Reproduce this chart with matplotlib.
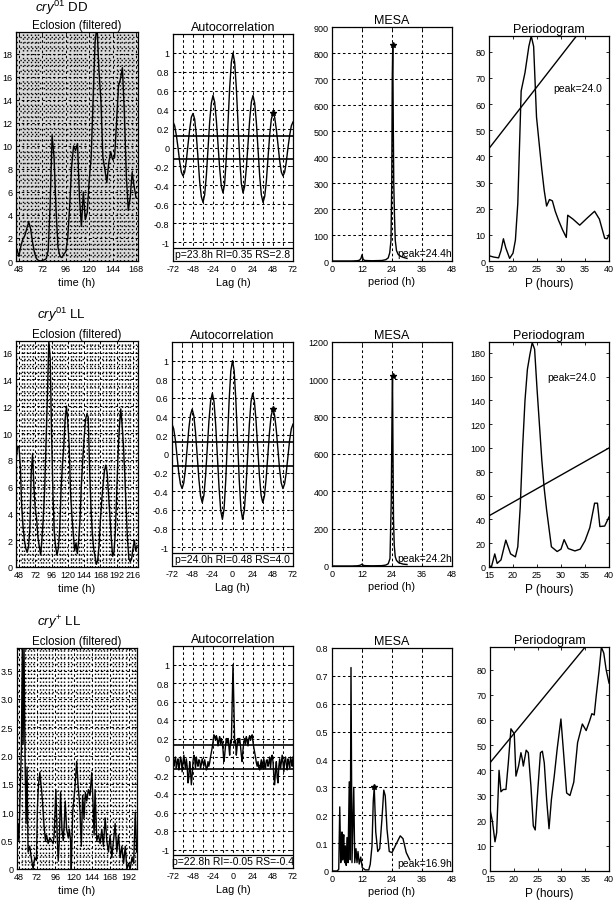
import numpy as np
import matplotlib
matplotlib.use("Agg")
import matplotlib.pyplot as plt
from matplotlib.patches import Rectangle
from matplotlib.ticker import MultipleLocator, FixedLocator, FuncFormatter

plt.rcParams['font.family'] = ['Liberation Sans', 'DejaVu Sans']
plt.rcParams['mathtext.fontset'] = 'custom'
plt.rcParams['mathtext.rm'] = 'Liberation Sans'
plt.rcParams['mathtext.it'] = 'Liberation Sans:italic'
plt.rcParams['axes.linewidth'] = 0.9

# ------------------------------------------------------------------ data
genotype_labels = [r'$\mathit{cry}^{\mathit{01}}$ DD',
                   r'$\mathit{cry}^{\mathit{01}}$ LL',
                   r'$\mathit{cry}^{+}$ LL']

# Eclosion (filtered) -- row 1: t = 46, 48, ... 168
ecl1_start, ecl1_step = 46, 2
ecl1_vals = [1.0, 0.4, 1.3, 1.9, 2.2, 2.8, 3.4, 2.8, 1.6, 0.7,
             0.2, 0.05, 0.0, 0.05, 0.1, 0.2, 0.9, 5.0, 10.9, 9.0,
             4.5, 1.2, 0.4, 0.3, 0.6, 0.8, 2.0, 4.8, 8.2, 10.0,
             9.6, 10.2, 5.6, 3.0, 6.0, 3.6, 4.2, 7.0, 9.0, 14.0,
             19.0, 20.5, 16.5, 14.0, 9.0, 8.0, 6.8, 8.5, 9.5, 8.8,
             9.0, 12.0, 15.2, 15.8, 16.8, 13.0, 7.5, 4.4, 5.5, 7.7,
             6.5, 5.5]
# row 2: t = 44, 46, ... 222
ecl2_start, ecl2_step = 44, 2
ecl2_vals = [8.1, 9.0, 9.0, 7.5, 4.5, 3.0, 2.0, 1.4, 1.1, 1.5,
             2.8, 7.0, 8.4, 6.0, 4.4, 3.6, 2.2, 1.5, 0.9, 2.2,
             3.8, 6.0, 9.5, 13.0, 16.9, 15.6, 10.0, 5.5, 2.6, 1.5,
             0.9, 1.4, 2.8, 5.8, 7.6, 9.0, 11.0, 12.0, 10.8, 9.0,
             5.5, 3.8, 2.5, 1.2, 1.8, 1.0, 2.0, 3.6, 6.2, 8.0,
             9.6, 11.0, 11.4, 11.2, 7.5, 4.5, 2.6, 1.4, 0.8, 0.2,
             0.5, 1.6, 3.5, 5.0, 6.2, 7.2, 7.6, 7.0, 5.4, 3.8,
             2.2, 0.8, 1.1, 2.6, 5.5, 8.5, 10.5, 11.8, 10.6, 9.0,
             6.8, 4.2, 2.0, 0.6, 0.4, 0.6, 1.4, 2.0, 1.2, 1.6]
# row 3: irregular sampling
ecl3_time = [45.8, 47.1, 48.4, 50.2, 51.5, 52.8, 53.8, 55.0, 56.3, 57.7,
             59.0, 60.3, 62.5, 64.5, 66.9, 69.0, 71.3, 72.6, 74.0, 75.7,
             77.9, 79.2, 81.0, 83.1, 84.5, 86.6, 88.8, 91.0, 93.2, 94.5,
             96.7, 98.4, 99.8, 101.2, 102.9, 104.7, 106.4, 107.7, 109.0, 110.8,
             113.0, 114.4, 116.0, 116.9, 118.7, 121.5, 124.0, 125.7, 127.5, 128.4,
             130.0, 131.8, 133.6, 135.4, 137.2, 139.3, 141.5, 143.7, 145.0, 146.8,
             148.1, 150.3, 152.5, 154.7, 156.9, 159.0, 161.3, 163.5, 165.6, 167.8,
             170.0, 172.2, 174.4, 176.6, 178.8, 181.0, 183.2, 185.4, 187.6, 189.8,
             192.0, 194.0, 196.4, 198.6, 200.8, 202.5]
ecl3_vals = [0.3, 0.8, 0.5, 1.5, 2.1, 3.95, 2.2, 3.95, 2.0, 0.8,
             1.8, 0.3, 0.4, 0.2, 0.0, 0.2, 0.15, 1.1, 1.5, 1.7,
             1.4, 1.2, 0.8, 0.5, 0.6, 0.45, 0.55, 0.5, 0.45, 0.6,
             1.4, 0.6, 0.15, 0.5, 1.35, 0.7, 0.5, 0.8, 1.2, 0.7,
             0.55, 0.7, 0.5, 0.0, 1.0, 1.4, 1.9, 1.5, 1.2, 1.0,
             0.4, 1.3, 0.9, 1.35, 1.2, 1.4, 1.3, 1.7, 1.3, 0.6,
             1.4, 0.5, 0.6, 0.45, 0.7, 0.4, 0.9, 0.5, 0.3, 0.6,
             0.2, 0.5, 0.8, 0.3, 0.6, 0.2, 0.4, 0.1, 0.4, 0.0,
             0.1, 0.0, 0.2, 0.1, 1.0, 0.3]

# Autocorrelation (symmetric; values for lag >= 0)
acf1_step = 2
acf1_half = [1.0, 0.90, 0.63, 0.26, -0.11, -0.38, -0.48,
             -0.41, -0.22, 0.035, 0.29, 0.48, 0.55,
             0.47, 0.27, -0.015, -0.30, -0.50, -0.58,
             -0.52, -0.36, -0.11, 0.13, 0.30, 0.36,
             0.32, 0.19, 0.03, -0.14, -0.26, -0.30,
             -0.26, -0.15, 0.0, 0.13, 0.23, 0.27]
acf2_step = 2
acf2_half = [1.0, 0.89, 0.575, 0.15, -0.275, -0.585, -0.70,
             -0.61, -0.36, -0.025, 0.31, 0.56, 0.65,
             0.57, 0.36, 0.065, -0.23, -0.44, -0.52,
             -0.45, -0.27, -0.02, 0.23, 0.41, 0.48,
             0.42, 0.27, 0.055, -0.16, -0.31, -0.37,
             -0.32, -0.20, -0.025, 0.15, 0.27, 0.32]
acf3_step = 1
acf3_half = [1.0, 0.58, 0.15, 0.18, 0.02, 0.12, 0.20, 0.15, 0.20, 0.12,
             0.02, -0.05, 0.08, 0.16, 0.20, 0.14, 0.22, 0.18, 0.12, 0.20,
             0.23, 0.18, 0.22, 0.24, 0.16, 0.10, 0.05, 0.00, -0.06, -0.10,
             -0.05, -0.12, -0.14, -0.08, -0.03, -0.10, -0.06, -0.02, -0.08, -0.12,
             -0.04, -0.03, -0.10, -0.06, 0.00, -0.12, -0.02, 0.02, -0.05, -0.20,
             -0.30, -0.15, -0.05, -0.22, -0.28, -0.10, -0.02, -0.12, -0.06, 0.02,
             -0.06, -0.16, -0.04, 0.00, -0.08, -0.14, -0.02, -0.06, -0.12, 0.00,
             -0.04, -0.10, 0.00]
acf_texts = ['p=23.8h RI=0.35 RS=2.8', 'p=24.0h RI=0.48 RS=4.0',
             'p=22.8h RI=-0.05 RS=-0.4']
acf_sig = [0.125, 0.125, 0.13]
acf_star_lags = [48, 48, 35]

# MESA
mesa1_period = [0, 4, 8, 10, 11, 11.6, 12.0, 12.4, 13, 16,
                20, 21.5, 22.5, 23.1, 23.6, 23.9, 24.1, 24.3, 24.5, 24.7,
                25.0, 25.3, 25.8, 26.5, 27.5, 28.5, 30.0]
mesa1_power = [0, 0, 0, 1, 3, 10, 24, 8, 2, 1,
               2, 5, 12, 32, 80, 300, 700, 830, 546, 300,
               173, 80, 40, 25, 18, 14, 10]
mesa2_period = [0, 4, 8, 10, 11, 11.6, 12.0, 12.4, 13, 16,
                20, 21.5, 22.5, 23.2, 23.7, 24.0, 24.2, 24.4, 24.6, 24.9,
                25.3, 25.8, 26.5, 27.5, 28.5, 30.0]
mesa2_power = [0, 0, 0, 1, 3, 6, 10, 5, 2, 1,
               2, 5, 12, 40, 350, 800, 1020, 600, 250, 110,
               50, 30, 20, 14, 10, 8]
mesa3_period = [0, 2.0, 2.7, 3.1, 3.5, 3.8, 4.0, 4.2, 4.4, 4.6,
                4.7, 4.9, 5.1, 5.3, 5.5, 5.7, 6.0, 6.4, 6.9, 7.3,
                7.6, 8.0, 8.7, 9.1, 9.6, 10.0, 10.4, 10.9, 11.5, 12.1,
                13.3, 14.7, 15.3, 16.0, 16.5, 16.9, 17.5, 18.3, 19.1, 20.0,
                20.7, 21.3, 22.0, 22.9, 24.0, 25.3, 27.3, 28.4, 29.7, 31.1]
mesa3_power = [0, 0.0, 0.006, 0.23, 0.03, 0.10, 0.14, 0.04, 0.05, 0.12,
               0.13, 0.04, 0.03, 0.09, 0.05, 0.02, 0.12, 0.03, 0.32, 0.04,
               0.73, 0.03, 0.30, 0.03, 0.08, 0.03, 0.07, 0.025, 0.05, 0.012,
               0.004, 0.004, 0.024, 0.09, 0.25, 0.30, 0.14, 0.07, 0.08, 0.19,
               0.29, 0.27, 0.15, 0.07, 0.066, 0.09, 0.126, 0.116, 0.066, 0.04]
mesa_peaks = [(24.3, 830), (24.2, 1020), (16.9, 0.30)]
mesa_texts = ['peak=24.4h', 'peak=24.2h', 'peak=16.9h']
mesa_ylims = [900, 1200, 0.8]
mesa_ysteps = [100, 200, 0.1]

# Periodogram
per1_p = [15, 16, 17, 17.5, 18, 18.5, 19.3, 20, 20.5, 21,
          21.7, 22.5, 23.3, 23.8, 24.3, 24.9, 25.5, 26, 26.5, 27,
          27.6, 28.2, 28.8, 29.5, 30.3, 31.1, 31.4, 32.5, 33.9, 35.5,
          37.0, 38.0, 39.1, 39.6, 40]
per1_v = [2, 1.5, 1.2, 4, 8.5, 5, 1, 3, 8, 22,
          65, 72, 82, 86, 82, 55, 44, 35, 27, 21,
          23.5, 23, 19, 15.5, 12, 9, 17.5, 16, 13.7, 16.5,
          19, 16, 8.7, 8.5, 10]
per2_p = [15, 15.5, 16.2, 16.7, 17.5, 18.5, 19.5, 20.5, 21.0, 21.5,
          22.0, 22.5, 23.0, 23.5, 24.0, 24.5, 25.0, 25.5, 26.0, 26.5,
          27.0, 28.0, 29.2, 30.0, 30.65, 31.5, 32.9, 34.0, 35.0, 36.0,
          37.0, 37.6, 38.1, 39.1, 40]
per2_v = [1.4, 0, 11, 3, 6, 22.6, 11, 8.5, 17, 50,
          100, 140, 166, 178, 188.5, 183, 150, 120, 90, 66,
          48, 17, 13, 15, 23, 15.5, 13.5, 15, 22, 33,
          53.6, 53.6, 34, 34.4, 42]
per3_p = [15.0, 15.5, 16.05, 16.4, 16.9, 17.3, 17.8, 18.35, 18.85, 19.4,
          20.1, 20.45, 21.0, 21.5, 21.8, 22.0, 22.6, 23.05, 23.6, 24.1,
          24.5, 24.9, 25.6, 26.0, 26.4, 26.9, 27.4, 27.9, 28.5, 29.1,
          29.9, 30.4, 31.1, 31.8, 32.6, 33.4, 34.4, 35.2, 35.9, 36.4,
          36.9, 37.3, 37.9, 38.4, 38.9, 39.4, 40.0]
per3_v = [24.5, 19.8, 11.6, 15.2, 40, 31.5, 32.4, 32.4, 43, 56.5,
          54.5, 37.7, 41.7, 47, 44.3, 41.7, 48, 47, 33.7, 17.9,
          16.3, 28.4, 47, 47.6, 43, 28.4, 16.8, 28.4, 37.7, 48.3,
          60.4, 48.3, 31, 30, 35.3, 51, 58.4, 55.8, 59.5, 62.5,
          62, 69.4, 79.3, 88.9, 86.6, 80, 74.7]
per_thr_ends = [(43, 102), (43, 100), (43, 100.5)]   # threshold at P=15 and P=40
per_ylims = [86, 189, 89]
per_ysteps = [10, 20, 10]
per_texts = ['peak=24.0', 'peak=24.0', None]
per_text_pos = [(28.3, 66), (27.2, 160), None]

# ------------------------------------------------------------------ layout
W, H = 614, 903
fig = plt.figure(figsize=(W / 100, H / 100), dpi=100)


def add_ax(l, r, t, b):
    return fig.add_axes([l / W, 1 - b / H, (r - l) / W, (b - t) / H])


TICK_FS = 6.5
TITLE_FS = 9
LABEL_FS = 7.8
GRID_DASH = dict(color='k', ls=(0, (2.5, 2.5)), lw=0.75)
GRID_DOT = dict(color='k', ls=(0, (1.0, 1.8)), lw=1.0)


def style(ax):
    ax.tick_params(direction='in', length=2.5, width=0.6, labelsize=TICK_FS,
                   pad=2.5, top=True, right=True)
    ax.tick_params(which='minor', length=0)


def eclosion(ax, t, v, xlim, ylim, xticks, ymaj, ymin, bg, fmt):
    ax.set_facecolor(bg)
    ax.plot(t, v, color='k', lw=1.0, zorder=2)
    ax.set_xlim(*xlim)
    ax.set_ylim(*ylim)
    ax.xaxis.set_major_locator(FixedLocator(xticks))
    ax.xaxis.set_minor_locator(MultipleLocator(4))
    ax.yaxis.set_major_locator(MultipleLocator(ymaj))
    ax.yaxis.set_minor_locator(MultipleLocator(ymin))
    ax.yaxis.set_major_formatter(FuncFormatter(fmt))
    ax.grid(which='major', **GRID_DASH)
    ax.grid(which='minor', **GRID_DOT)
    ax.set_axisbelow(True)
    ax.set_title('Eclosion (filtered)', fontsize=8.3, pad=3)
    ax.set_xlabel('time (h)', fontsize=LABEL_FS, labelpad=2.5)
    style(ax)


def acf(ax, half, step, sig, star_lag, txt):
    half = np.asarray(half, dtype=float)
    vals = np.concatenate([half[:0:-1], half])
    lags = step * np.arange(-(len(half) - 1), len(half))
    ax.plot(lags, vals, color='k', lw=1.0, zorder=2)
    ax.plot([star_lag], [np.interp(star_lag, lags, vals)], marker='*',
            color='k', ms=4, zorder=3)
    ax.axhline(sig, color='k', lw=1.2, zorder=2)
    ax.axhline(-sig, color='k', lw=1.2, zorder=2)
    ax.set_xlim(-72, 72)
    ax.set_ylim(-1.2, 1.2)
    ax.xaxis.set_major_locator(MultipleLocator(12))
    ax.xaxis.set_major_formatter(FuncFormatter(
        lambda x, p: f"{int(round(x))}" if int(round(x)) % 24 == 0 else ""))
    ax.yaxis.set_major_locator(FixedLocator(np.round(np.arange(-1, 1.01, 0.2), 1)))
    ax.yaxis.set_major_formatter(FuncFormatter(lambda y, p: f"{round(y, 1) + 0.0:g}"))
    ax.grid(**GRID_DASH)
    ax.set_axisbelow(True)
    ax.add_patch(Rectangle((-72, -1.2), 144, 0.14, facecolor='white',
                           edgecolor='k', lw=0.9, zorder=3))
    ax.text(0, -1.128, txt, ha='center', va='center', fontsize=7.5, zorder=4)
    ax.set_title('Autocorrelation', fontsize=TITLE_FS, pad=3)
    ax.set_xlabel('Lag (h)', fontsize=LABEL_FS, labelpad=2.5)
    style(ax)


def mesa(ax, p, v, ylim, ystep, peak, txt):
    ax.plot(p, v, color='k', lw=1.0, zorder=2)
    ax.plot([peak[0]], [peak[1]], marker='*', color='k', ms=4, zorder=3)
    ax.set_xlim(0, 48)
    ax.set_ylim(0, ylim)
    ax.xaxis.set_major_locator(MultipleLocator(12))
    ax.yaxis.set_major_locator(MultipleLocator(ystep))
    ax.yaxis.set_major_formatter(FuncFormatter(lambda y, q: f"{round(y, 6):g}"))
    ax.grid(**GRID_DASH)
    ax.set_axisbelow(True)
    ax.text(0.54, 0.012, txt, transform=ax.transAxes, fontsize=7.5,
            ha='left', va='bottom', zorder=4)
    ax.set_title('MESA', fontsize=TITLE_FS, pad=3)
    ax.set_xlabel('period (h)', fontsize=LABEL_FS, labelpad=2)
    style(ax)


def pgram(ax, p, v, ylim, ystep, thr, txt, pos):
    ax.plot(p, v, color='k', lw=1.0)
    ax.plot([15, 40], list(thr), color='k', lw=1.0)
    ax.set_xlim(15, 40)
    ax.set_ylim(0, ylim)
    ax.xaxis.set_major_locator(MultipleLocator(5))
    ax.yaxis.set_major_locator(MultipleLocator(ystep))
    if txt:
        ax.text(pos[0], pos[1], txt, fontsize=7.5, ha='left', va='center')
    ax.set_title('Periodogram', fontsize=TITLE_FS, pad=3)
    ax.set_xlabel('P (hours)', fontsize=8.5, labelpad=2.5)
    style(ax)


int_fmt = lambda y, p: f"{y:g}"
dec_fmt = lambda y, p: "0" if abs(y) < 1e-9 else f"{y:.1f}"

# positions in pixels: (left, right, top, bottom)
pos_rows = [
    [(16, 138, 33, 262), (173, 293, 35, 262), (332, 452, 28, 262), (489, 609, 37, 262)],
    [(16, 138, 342, 568), (172, 293, 343, 567), (332, 452, 343, 567), (489, 609, 343, 568)],
    [(17, 137, 649, 870), (173, 293, 647, 869), (332, 452, 649, 872), (490, 609, 648, 872)],
]
label_pos = [(35, 8), (37, 315), (37, 623)]

ecl_t = [ecl1_start + ecl1_step * np.arange(len(ecl1_vals)),
         ecl2_start + ecl2_step * np.arange(len(ecl2_vals)),
         np.asarray(ecl3_time)]
ecl_v = [ecl1_vals, ecl2_vals, ecl3_vals]
ecl_xlim = [(45, 170), (43.6, 223.4), (45.8, 203)]
ecl_ylim = [(0, 19.9), (0, 16.87), (0, 3.9)]
ecl_xticks = [list(range(48, 169, 24)), list(range(48, 217, 24)), list(range(48, 193, 24))]
ecl_ymaj = [2, 2, 0.5]
ecl_ymin = [0.5, 0.5, 0.125]
ecl_bg = ['#d9d9d9', 'white', 'white']
ecl_fmt = [int_fmt, int_fmt, dec_fmt]

acf_halves = [acf1_half, acf2_half, acf3_half]
acf_steps = [acf1_step, acf2_step, acf3_step]
mesa_p = [mesa1_period, mesa2_period, mesa3_period]
mesa_v = [mesa1_power, mesa2_power, mesa3_power]
per_p = [per1_p, per2_p, per3_p]
per_v = [per1_v, per2_v, per3_v]

for i in range(3):
    pr = pos_rows[i]
    ax = add_ax(*pr[0])
    eclosion(ax, ecl_t[i], ecl_v[i], ecl_xlim[i], ecl_ylim[i], ecl_xticks[i],
             ecl_ymaj[i], ecl_ymin[i], ecl_bg[i], ecl_fmt[i])
    ax = add_ax(*pr[1])
    acf(ax, acf_halves[i], acf_steps[i], acf_sig[i], acf_star_lags[i], acf_texts[i])
    ax = add_ax(*pr[2])
    mesa(ax, mesa_p[i], mesa_v[i], mesa_ylims[i], mesa_ysteps[i], mesa_peaks[i], mesa_texts[i])
    ax = add_ax(*pr[3])
    pgram(ax, per_p[i], per_v[i], per_ylims[i], per_ysteps[i], per_thr_ends[i],
          per_texts[i], per_text_pos[i])
    lx, ly = label_pos[i]
    fig.text(lx / W, 1 - ly / H, genotype_labels[i], fontsize=9.5,
             ha='left', va='center')

fig.savefig('out.png', dpi=100)
